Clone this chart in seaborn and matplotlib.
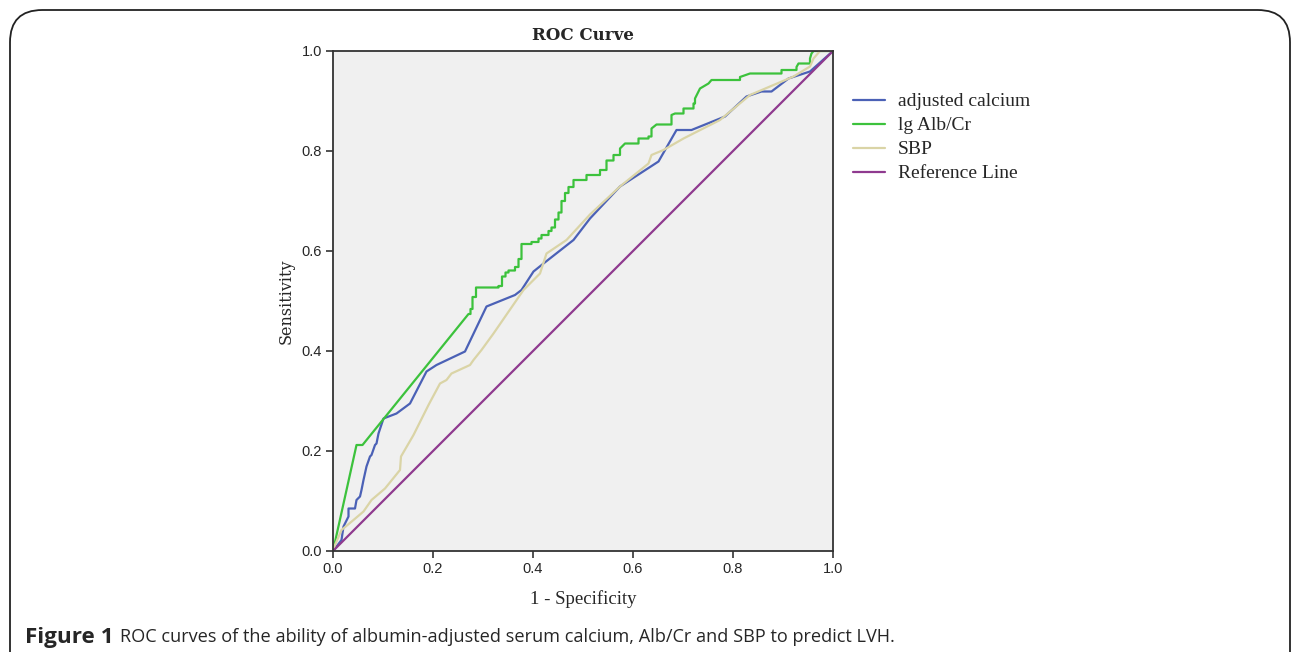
import pandas as pd
import matplotlib.pyplot as plt
import numpy as np
import seaborn as sns
from matplotlib.patches import FancyBboxPatch

# ROC curve points (1 - specificity, sensitivity)
calcium_x = [0.0, 0.004, 0.017, 0.021, 0.031, 0.031, 0.044, 0.047, 0.054, 0.057, 0.061, 0.067, 0.074, 0.077,
             0.084, 0.087, 0.091, 0.101, 0.127, 0.154, 0.187, 0.207, 0.264, 0.307, 0.364, 0.377, 0.401, 0.421,
             0.481, 0.514, 0.574, 0.651, 0.687, 0.717, 0.784, 0.827, 0.857, 0.877, 0.911, 0.954, 1.0]
calcium_y = [0.0, 0.005, 0.022, 0.049, 0.069, 0.085, 0.085, 0.102, 0.109, 0.122, 0.142, 0.169, 0.189, 0.192,
             0.212, 0.215, 0.235, 0.265, 0.275, 0.295, 0.359, 0.372, 0.399, 0.489, 0.512, 0.522, 0.559, 0.575,
             0.622, 0.665, 0.729, 0.779, 0.842, 0.842, 0.869, 0.909, 0.919, 0.919, 0.945, 0.959, 1.0]

alb_x = [0.0, 0.047, 0.059, 0.271, 0.275, 0.275, 0.279, 0.279, 0.286, 0.286, 0.331, 0.331, 0.338, 0.338,
         0.345, 0.345, 0.351, 0.351, 0.364, 0.364, 0.371, 0.371, 0.377, 0.377, 0.397, 0.397, 0.411, 0.411,
         0.417, 0.417, 0.431, 0.431, 0.437, 0.437, 0.444, 0.444, 0.451, 0.451, 0.457, 0.457, 0.464, 0.464,
         0.471, 0.471, 0.481, 0.481, 0.494, 0.507, 0.507, 0.534, 0.534, 0.547, 0.547, 0.561, 0.561, 0.574,
         0.574, 0.584, 0.611, 0.611, 0.631, 0.631, 0.637, 0.637, 0.647, 0.677, 0.677, 0.684, 0.701, 0.701,
         0.721, 0.721, 0.724, 0.724, 0.734, 0.751, 0.751, 0.757, 0.814, 0.814, 0.834, 0.897, 0.897, 0.901,
         0.927, 0.927, 0.931, 0.954, 0.954, 0.957, 0.961, 1.0]
alb_y = [0.0, 0.212, 0.212, 0.474, 0.474, 0.484, 0.484, 0.508, 0.508, 0.527, 0.527, 0.530, 0.530, 0.549,
         0.549, 0.557, 0.557, 0.561, 0.561, 0.568, 0.568, 0.584, 0.584, 0.614, 0.614, 0.618, 0.618, 0.625,
         0.625, 0.632, 0.632, 0.640, 0.640, 0.647, 0.647, 0.663, 0.663, 0.677, 0.677, 0.700, 0.700, 0.716,
         0.716, 0.728, 0.728, 0.742, 0.742, 0.742, 0.752, 0.752, 0.762, 0.762, 0.781, 0.781, 0.792, 0.792,
         0.805, 0.815, 0.815, 0.825, 0.825, 0.829, 0.829, 0.845, 0.853, 0.853, 0.872, 0.875, 0.875, 0.885,
         0.885, 0.895, 0.895, 0.905, 0.925, 0.935, 0.935, 0.942, 0.942, 0.948, 0.955, 0.955, 0.962, 0.962,
         0.962, 0.968, 0.975, 0.975, 0.985, 0.995, 1.0, 1.0]

sbp_x = [0.0, 0.004, 0.017, 0.041, 0.061, 0.077, 0.104, 0.134, 0.136, 0.161, 0.191, 0.214, 0.227, 0.237,
         0.274, 0.281, 0.297, 0.321, 0.381, 0.414, 0.427, 0.467, 0.514, 0.574, 0.631, 0.637, 0.661, 0.701,
         0.774, 0.834, 0.874, 0.921, 0.954, 0.961, 0.974, 1.0]
sbp_y = [0.0, 0.012, 0.042, 0.062, 0.079, 0.102, 0.125, 0.162, 0.189, 0.232, 0.292, 0.335, 0.342, 0.355,
         0.372, 0.382, 0.402, 0.435, 0.522, 0.555, 0.595, 0.622, 0.673, 0.729, 0.775, 0.792, 0.802, 0.825,
         0.862, 0.912, 0.929, 0.949, 0.969, 0.985, 1.0, 1.0]

ref_x = [0.0, 1.0]
ref_y = [0.0, 1.0]

labels = ["adjusted calcium", "lg Alb/Cr", "SBP", "Reference Line"]
colors = ["#4b61b6", "#3cc23c", "#dad4a6", "#8f3a8f"]

frames = []
for lab, xs, ys in zip(labels, [calcium_x, alb_x, sbp_x, ref_x], [calcium_y, alb_y, sbp_y, ref_y]):
    frames.append(pd.DataFrame({"fpr": xs, "tpr": ys, "curve": lab}))
df = pd.concat(frames, ignore_index=True)

sns.set_style("white")
plt.rcParams['font.family'] = ['Liberation Sans', 'DejaVu Sans']

fig = plt.figure(figsize=(12.92, 6.52), dpi=100)
ax = fig.add_axes([333/1292, 1-551/652, 500/1292, 500/652])
ax.set_facecolor("#f0f0f0")

sns.lineplot(data=df, x="fpr", y="tpr", hue="curve", hue_order=labels,
             palette=dict(zip(labels, colors)), sort=False, estimator=None,
             units="curve", linewidth=1.6, ax=ax)

ax.set_xlim(0, 1)
ax.set_ylim(0, 1)
ticks = [0.0, 0.2, 0.4, 0.6, 0.8, 1.0]
ax.set_xticks(ticks)
ax.set_yticks(ticks)
ax.set_xticklabels([f"{t:.1f}" for t in ticks], fontsize=10.5)
ax.set_yticklabels([f"{t:.1f}" for t in ticks], fontsize=10.5)
ax.tick_params(direction="out", length=5, width=1.2, color="#333333", pad=3,
               bottom=True, left=True)
for s in ax.spines.values():
    s.set_color("#333333")
    s.set_linewidth(1.3)

serif = ['Liberation Serif', 'DejaVu Serif']
ax.set_xlabel("1 - Specificity", family=serif, fontsize=13.5, labelpad=10)
ax.set_ylabel("Sensitivity", family=['DejaVu Serif'], fontsize=11.5, labelpad=5)
ax.set_title("ROC Curve", family=['DejaVu Serif'], fontsize=12, fontweight="bold", pad=8)

leg = ax.legend(loc="upper left", bbox_to_anchor=(1.024, 0.932), frameon=False,
                prop={"family": serif, "size": 14}, handlelength=1.65,
                labelspacing=0.33, handletextpad=0.67, borderaxespad=0)

# rounded frame around the figure
frame = FancyBboxPatch((10/1292, -0.2), 1280/1292, (642/652) + 0.2,
                       boxstyle="round,pad=0,rounding_size=0.025",
                       transform=fig.transFigure, fill=False,
                       edgecolor="#222222", linewidth=1.3, mutation_aspect=1292/652)
fig.patches.append(frame)

cap_font = ['Open Sans', 'DejaVu Sans']
t1 = fig.text(25/1292, 1-637/652, "Figure 1", fontsize=16.2, fontweight="bold",
              family=cap_font, va="center")
fig.canvas.draw()
bb = t1.get_window_extent(fig.canvas.get_renderer())
fig.text((bb.x1 + 6)/1292, 1-637/652,
         "ROC curves of the ability of albumin-adjusted serum calcium, Alb/Cr and SBP to predict LVH.",
         fontsize=13.1, family=cap_font, va="center")

plt.savefig("out.png", dpi=100)
